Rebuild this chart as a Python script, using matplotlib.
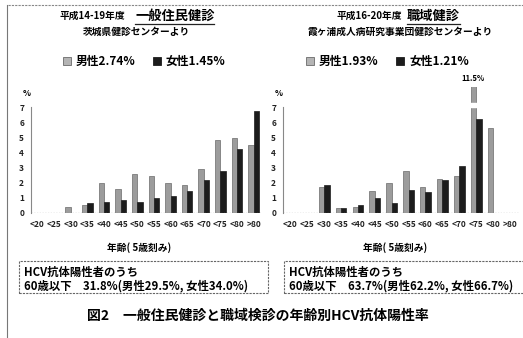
import matplotlib
matplotlib.use("Agg")
import matplotlib.pyplot as plt
from matplotlib.lines import Line2D
from matplotlib.patches import Rectangle
import numpy as np

plt.rcParams['font.family'] = ['Noto Sans CJK JP', 'DejaVu Sans']
plt.rcParams['font.weight'] = 'bold'

# age groups (5-year steps)
ages = ["<20", "<25", "<30", "<35", "<40", "<45", "<50",
        "<55", "<60", "<65", "<70", "<75", "<80", ">80"]

# general resident checkups (H14-19), positive rate %
general_male = [0, 0, 0.43, 0.54, 1.97, 1.58, 2.58, 2.43, 2.0, 1.87, 2.93, 4.82, 4.99, 4.49]
general_female = [0, 0, 0, 0.65, 0.76, 0.87, 0.72, 0.98, 1.15, 1.43, 2.17, 2.8, 4.21, 6.77]

# workplace checkups (H16-20), positive rate %
work_male = [0, 0, 1.71, 0.31, 0.37, 1.49, 1.99, 2.76, 1.75, 2.25, 2.45, 11.5, 5.62, 0]
work_female = [0, 0, 1.88, 0.35, 0.53, 1.0, 0.63, 1.53, 1.38, 2.17, 3.09, 6.24, 0, 0]

W, H = 523, 338
fig = plt.figure(figsize=(W / 100, H / 100), dpi=100)


def fx(x):
    return x / W


def fy(y):
    return 1 - y / H


def make_axes(left, right, xlim):
    top, bottom = 87, 213
    ax = fig.add_axes([fx(left), fy(bottom), (right - left) / W, (bottom - top) / H])
    ax.set_xlim(*xlim)
    ax.set_ylim(0, 8.35)
    return ax


def draw_chart(ax, male, female):
    x = np.arange(len(ages))
    bm = ax.bar(x - 0.16, male, width=0.32, color="#9c9c9c", edgecolor="#6a6a6a", linewidth=0.5)
    bf = ax.bar(x + 0.16, female, width=0.32, color="#1c1c1c", edgecolor="#1c1c1c", linewidth=0.5)
    ax.axhline(0, color="#888888", lw=0.9, ls=(0, (1, 1.2)))
    for s in ["top", "right", "bottom"]:
        ax.spines[s].set_visible(False)
    ax.spines["left"].set_bounds(0, 7)
    ax.spines["left"].set_color("#888888")
    ax.spines["left"].set_linewidth(0.8)
    ax.set_yticks(range(8))
    ax.set_xticks(x)
    ax.set_xticklabels(ages)
    ax.tick_params(axis="y", length=0, pad=5, labelsize=6, colors="#222222")
    ax.tick_params(axis="x", length=0, pad=5, labelsize=6, colors="#222222")
    return bm, bf


ax1 = make_axes(31, 262, (-0.39, 13.5))
draw_chart(ax1, general_male, general_female)

ax2 = make_axes(283, 520, (-0.44, 13.6))
bm2, bf2 = draw_chart(ax2, work_male, work_female)

# tall bar runs off the scale: break mark and value label
tall = int(np.argmax(work_male))
p = bm2[tall]
ax2.add_patch(Rectangle((p.get_x() - 0.05, 7.0), p.get_width() + 0.1, 0.3,
                        color="white", zorder=5, clip_on=False))
ax2.annotate(f"{work_male[tall]}%", (p.get_x() + p.get_width() / 2, 8.35),
             xytext=(0, 3), textcoords="offset points", ha="center", va="bottom",
             fontsize=5.5, annotation_clip=False)

# percent unit labels
fig.text(fx(27), fy(93), "%", fontsize=6, ha="center", va="center")
fig.text(fx(279), fy(94), "%", fontsize=6, ha="center", va="center")

# x axis titles
fig.text(fx(139), fy(248), "年齢( 5歳刻み)", fontsize=7, ha="center", va="center")
fig.text(fx(395), fy(248), "年齢( 5歳刻み)", fontsize=7, ha="center", va="center")

# chart headings
fig.text(fx(125), fy(16), "平成14-19年度", fontsize=7, ha="right", va="center")
h1 = fig.text(fx(135), fy(16), "一般住民健診", fontsize=9.5, ha="left", va="center")
fig.text(fx(136), fy(32), "茨城県健診センターより", fontsize=7, ha="center", va="center")

fig.text(fx(402), fy(16), "平成16-20年度", fontsize=7, ha="right", va="center")
h2 = fig.text(fx(407), fy(16), "職域健診", fontsize=9.5, ha="left", va="center")
fig.text(fx(400), fy(32), "霞ヶ浦成人病研究事業団健診センターより", fontsize=7, ha="center", va="center")

# legends
def legend_item(x, y, color, edge, label):
    fig.add_artist(Rectangle((fx(x), fy(y + 4)), 8 / W, 8 / H, transform=fig.transFigure,
                             facecolor=color, edgecolor=edge, lw=0.6))
    fig.text(fx(x + 13), fy(y), label, fontsize=8.5, ha="left", va="center")


legend_item(63, 61, "#b4b4b4", "#6a6a6a", "男性2.74%")
legend_item(153, 61, "#1c1c1c", "#1c1c1c", "女性1.45%")
legend_item(306, 61, "#b4b4b4", "#6a6a6a", "男性1.93%")
legend_item(396, 61, "#1c1c1c", "#1c1c1c", "女性1.21%")

# summary boxes, two lines of text each
for left, right in [(19, 268), (284, 530)]:
    fig.add_artist(Rectangle((fx(left), fy(293)), (right - left) / W, 32 / H,
                             transform=fig.transFigure, fill=False,
                             edgecolor="#666666", lw=0.8, ls=(0, (2, 1))))
box_lines = [
    ("HCV抗体陽性者のうち", "60歳以下　31.8%(男性29.5%, 女性34.0%)"),
    ("HCV抗体陽性者のうち", "60歳以下　63.7%(男性62.2%, 女性66.7%)"),
]
for x0, (l1, l2) in zip([24, 289], box_lines):
    fig.text(fx(x0), fy(276), l1, fontsize=8.2, ha="left", va="baseline")
    fig.text(fx(x0), fy(289), l2, fontsize=8.2, ha="left", va="baseline")

# figure caption
fig.text(fx(258), fy(316), "図2　一般住民健診と職域検診の年齢別HCV抗体陽性率",
         fontsize=10, ha="center", va="center")

# page frame
fig.add_artist(Line2D([fx(8), 1], [fy(5), fy(5)], transform=fig.transFigure,
                      color="#888888", lw=0.8, ls=(0, (2, 1))))
fig.add_artist(Line2D([fx(7), fx(7)], [fy(5), 0], transform=fig.transFigure,
                      color="#777777", lw=0.8))

# underline the two headings
fig.canvas.draw()
r = fig.canvas.get_renderer()
for t in (h1, h2):
    bb = t.get_window_extent(r).transformed(fig.transFigure.inverted())
    fig.add_artist(Line2D([bb.x0, bb.x1], [bb.y0 - 0.004, bb.y0 - 0.004],
                          transform=fig.transFigure, color="#222222", lw=0.9))

fig.savefig("out.png", dpi=100)
